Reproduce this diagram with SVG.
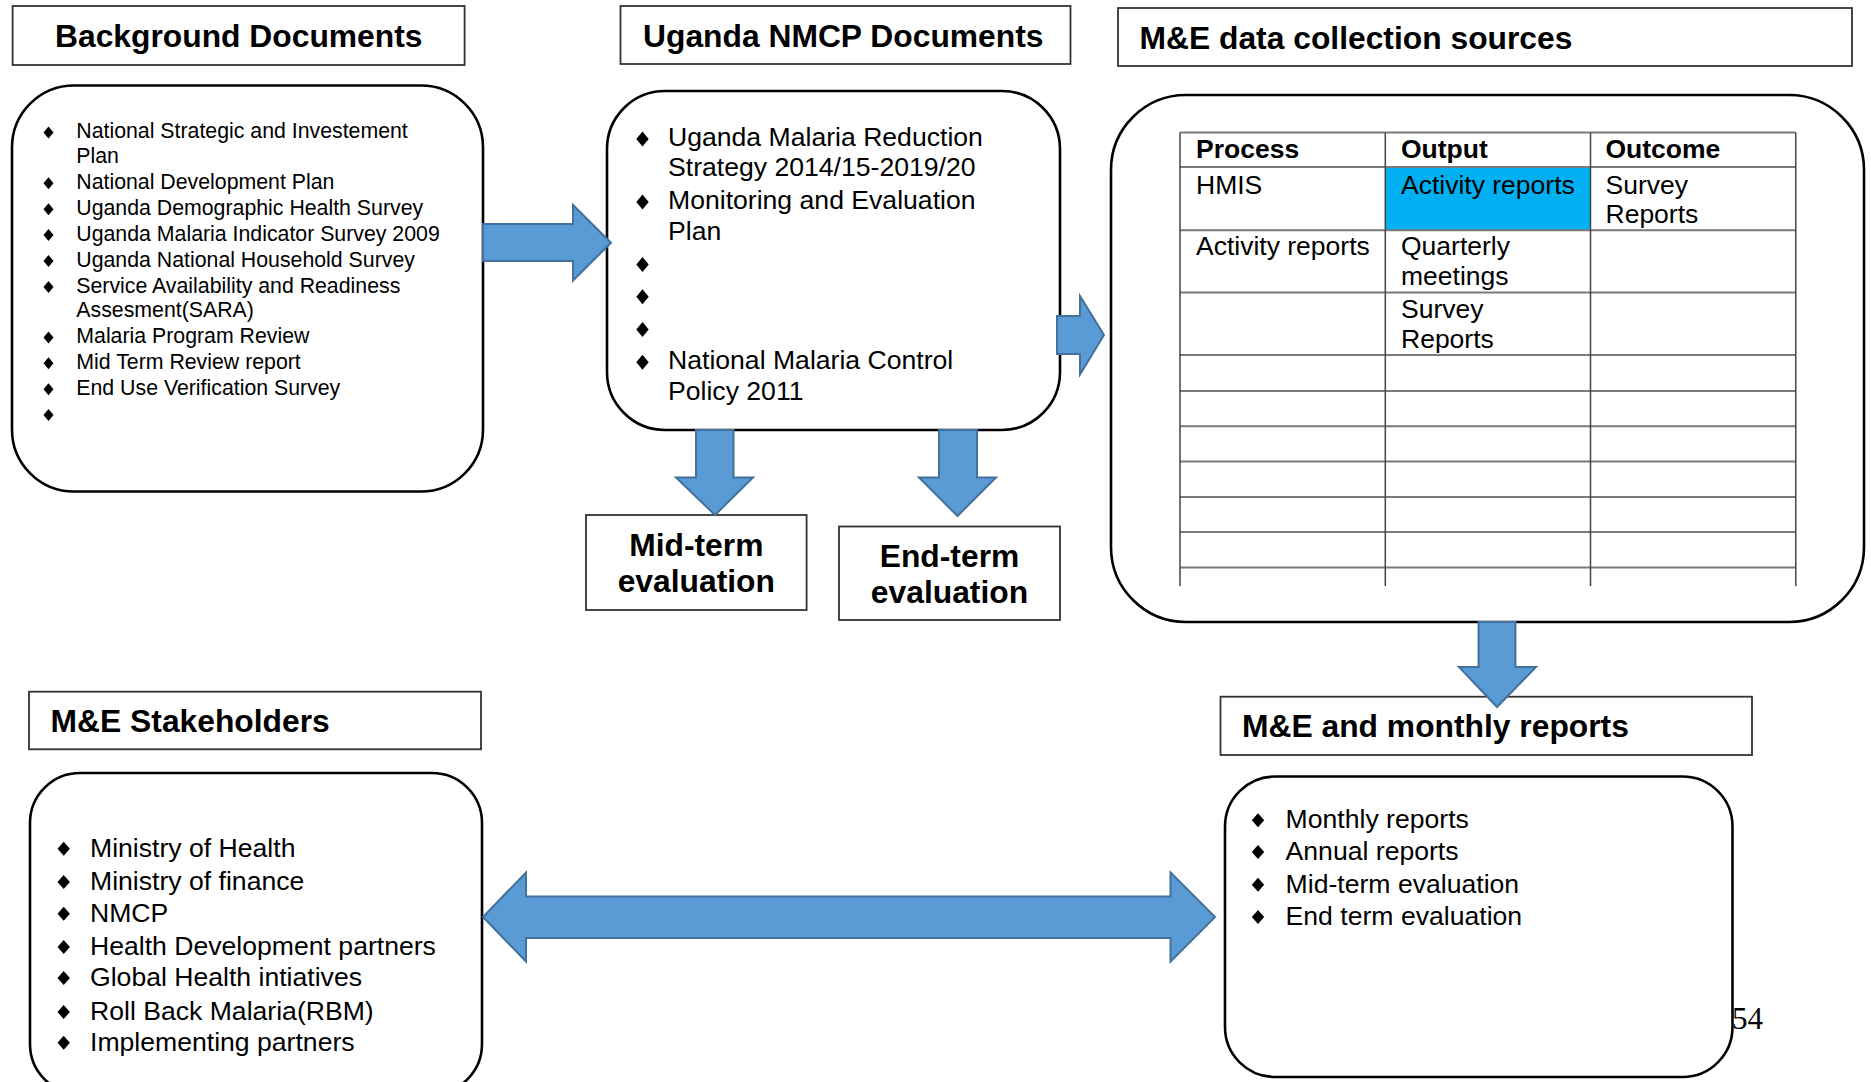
<svg xmlns="http://www.w3.org/2000/svg" width="1871" height="1082" viewBox="0 0 1871 1082">
  <defs>
    <style>
      .title-box { fill: #ffffff; stroke: #333333; stroke-width: 1.8; }
      .title { font-family: "Liberation Sans", Arial, sans-serif; font-weight: bold; font-size: 31.8px; fill: #000000; }
      .panel { fill: #ffffff; stroke: #000000; stroke-width: 2.6; }
      .body { font-family: "Liberation Sans", Arial, sans-serif; fill: #000000; }
      .small { font-size: 21.3px; }
      .med { font-size: 26.6px; }
      .th { font-family: "Liberation Sans", Arial, sans-serif; font-weight: bold; font-size: 26.5px; fill: #000000; }
      .td { font-family: "Liberation Sans", Arial, sans-serif; font-size: 26.5px; fill: #000000; }
      .hline { stroke: #7a7a7a; stroke-width: 2; }
      .vline { stroke: #444444; stroke-width: 1.5; }
      .arrow { fill: #5B9BD5; stroke: #41719C; stroke-width: 2; stroke-linejoin: miter; }
      .page { font-family: "Liberation Serif", "Times New Roman", serif; font-size: 31px; fill: #000000; }
    </style>
    <!-- list bullet diamonds -->
    <path id="dia-s" d="M0,-6 L5,0 L0,6 L-5,0 Z" fill="#000000"/>
    <path id="dia-m" d="M0,-7.5 L6.2,0 L0,7.5 L-6.2,0 Z" fill="#000000"/>
    <path id="dia-l" d="M0,-7 L6.2,0 L0,7 L-6.2,0 Z" fill="#000000"/>
  </defs>

  <rect width="1871" height="1082" fill="#ffffff"/>

  <!-- Background documents -->
  <g id="background-title">
    <rect class="title-box" x="12.6" y="6" width="452" height="59"/>
    <text class="title" x="55" y="47">Background Documents</text>
  </g>
  <g id="background-docs">
    <rect class="panel" x="12" y="85.5" width="471" height="406" rx="62" ry="62"/>
    <use href="#dia-s" x="48.5" y="132.5"/>
    <use href="#dia-s" x="48.5" y="183.2"/>
    <use href="#dia-s" x="48.5" y="209.2"/>
    <use href="#dia-s" x="48.5" y="234.9"/>
    <use href="#dia-s" x="48.5" y="260.9"/>
    <use href="#dia-s" x="48.5" y="286.9"/>
    <use href="#dia-s" x="48.5" y="337.5"/>
    <use href="#dia-s" x="48.5" y="363.2"/>
    <use href="#dia-s" x="48.5" y="389.2"/>
    <use href="#dia-s" x="48.5" y="415"/>
    <g class="body small">
      <text x="76.3" y="138.3">National Strategic and Investement</text>
      <text x="76.3" y="163.3">Plan</text>
      <text x="76.3" y="189">National Development Plan</text>
      <text x="76.3" y="215">Uganda Demographic Health Survey</text>
      <text x="76.3" y="240.7">Uganda Malaria Indicator Survey 2009</text>
      <text x="76.3" y="266.7">Uganda National Household Survey</text>
      <text x="76.3" y="292.7">Service Availability and Readiness</text>
      <text x="76.3" y="316.7">Assesment(SARA)</text>
      <text x="76.3" y="343.3">Malaria Program Review</text>
      <text x="76.3" y="369">Mid Term Review report</text>
      <text x="76.3" y="395">End Use Verification Survey</text>
    </g>
  </g>

  <!-- Uganda NMCP documents -->
  <g id="nmcp-title">
    <rect class="title-box" x="620.5" y="6" width="450" height="58"/>
    <text class="title" x="643" y="47">Uganda NMCP Documents</text>
  </g>
  <g id="nmcp-docs">
    <rect class="panel" x="607" y="91" width="453" height="339" rx="58" ry="58"/>
    <use href="#dia-m" x="642.5" y="139"/>
    <use href="#dia-m" x="642.5" y="202"/>
    <use href="#dia-m" x="642.5" y="264.5"/>
    <use href="#dia-m" x="642.5" y="296.7"/>
    <use href="#dia-m" x="642.5" y="329.4"/>
    <use href="#dia-m" x="642.5" y="362.2"/>
    <g class="body med">
      <text x="668" y="146">Uganda Malaria Reduction</text>
      <text x="668" y="176">Strategy 2014/15-2019/20</text>
      <text x="668" y="209">Monitoring and Evaluation</text>
      <text x="668" y="240">Plan</text>
      <text x="668" y="369.4">National Malaria Control</text>
      <text x="668" y="400">Policy 2011</text>
    </g>
  </g>

  <g id="midterm-eval">
    <rect class="title-box" x="586" y="515" width="220.6" height="95"/>
    <text class="title" x="696.3" y="556" text-anchor="middle">Mid-term</text>
    <text class="title" x="696.3" y="592" text-anchor="middle">evaluation</text>
  </g>
  <g id="endterm-eval">
    <rect class="title-box" x="839" y="526.5" width="221" height="93.5"/>
    <text class="title" x="949.5" y="567" text-anchor="middle">End-term</text>
    <text class="title" x="949.5" y="603" text-anchor="middle">evaluation</text>
  </g>

  <!-- M&E data collection sources -->
  <g id="sources-title">
    <rect class="title-box" x="1118" y="8" width="734" height="58"/>
    <text class="title" x="1139.5" y="49">M&amp;E data collection sources</text>
  </g>
  <g id="sources">
    <rect class="panel" x="1111" y="95" width="753" height="527" rx="75" ry="75"/>
    <rect x="1385.3" y="167" width="205.2" height="63.3" fill="#00B0F0"/>
    <g>
      <line class="hline" x1="1180" y1="132.4" x2="1795.8" y2="132.4"/>
      <line class="hline" x1="1180" y1="167" x2="1795.8" y2="167"/>
      <line class="hline" x1="1180" y1="230.3" x2="1795.8" y2="230.3"/>
      <line class="hline" x1="1180" y1="292.5" x2="1795.8" y2="292.5"/>
      <line class="hline" x1="1180" y1="355" x2="1795.8" y2="355"/>
      <line class="hline" x1="1180" y1="391" x2="1795.8" y2="391"/>
      <line class="hline" x1="1180" y1="426.3" x2="1795.8" y2="426.3"/>
      <line class="hline" x1="1180" y1="461.5" x2="1795.8" y2="461.5"/>
      <line class="hline" x1="1180" y1="497" x2="1795.8" y2="497"/>
      <line class="hline" x1="1180" y1="532" x2="1795.8" y2="532"/>
      <line class="hline" x1="1180" y1="567.5" x2="1795.8" y2="567.5"/>
      <line class="vline" x1="1180" y1="132.4" x2="1180" y2="586"/>
      <line class="vline" x1="1385.3" y1="132.4" x2="1385.3" y2="586"/>
      <line class="vline" x1="1590.5" y1="132.4" x2="1590.5" y2="586"/>
      <line class="vline" x1="1795.8" y1="132.4" x2="1795.8" y2="586"/>
    </g>
    <text class="th" x="1196" y="158">Process</text>
    <text class="th" x="1401" y="158">Output</text>
    <text class="th" x="1605.5" y="158">Outcome</text>
    <text class="td" x="1196" y="193.6">HMIS</text>
    <text class="td" x="1401" y="193.6">Activity reports</text>
    <text class="td" x="1605.5" y="193.6">Survey</text>
    <text class="td" x="1605.5" y="223">Reports</text>
    <text class="td" x="1196" y="255">Activity reports</text>
    <text class="td" x="1401" y="255">Quarterly</text>
    <text class="td" x="1401" y="285.4">meetings</text>
    <text class="td" x="1401" y="317.5">Survey</text>
    <text class="td" x="1401" y="348">Reports</text>
  </g>

  <!-- M&E stakeholders -->
  <g id="stakeholders-title">
    <rect class="title-box" x="29" y="691.7" width="452" height="57.6"/>
    <text class="title" x="50.6" y="732">M&amp;E Stakeholders</text>
  </g>
  <g id="stakeholders">
    <rect class="panel" x="30" y="773" width="452" height="321" rx="50" ry="50"/>
    <use href="#dia-l" x="63.7" y="848.7"/>
    <use href="#dia-l" x="63.7" y="882"/>
    <use href="#dia-l" x="63.7" y="913.7"/>
    <use href="#dia-l" x="63.7" y="947"/>
    <use href="#dia-l" x="63.7" y="978"/>
    <use href="#dia-l" x="63.7" y="1012"/>
    <use href="#dia-l" x="63.7" y="1042.7"/>
    <g class="body med">
      <text x="90" y="856.7">Ministry of Health</text>
      <text x="90" y="890">Ministry of finance</text>
      <text x="90" y="921.7">NMCP</text>
      <text x="90" y="955">Health Development partners</text>
      <text x="90" y="986">Global Health intiatives</text>
      <text x="90" y="1020">Roll Back Malaria(RBM)</text>
      <text x="90" y="1050.7">Implementing partners</text>
    </g>
  </g>

  <!-- M&E and monthly reports -->
  <g id="reports-title">
    <rect class="title-box" x="1220.5" y="696.7" width="531.5" height="58.3"/>
    <text class="title" x="1242" y="737">M&amp;E and monthly reports</text>
  </g>
  <g id="reports">
    <rect class="panel" x="1225" y="776.5" width="507.5" height="300.5" rx="50" ry="50"/>
    <use href="#dia-l" x="1258" y="820.3"/>
    <use href="#dia-l" x="1258" y="852"/>
    <use href="#dia-l" x="1258" y="884.7"/>
    <use href="#dia-l" x="1258" y="917"/>
    <g class="body med">
      <text x="1285.6" y="828.3">Monthly reports</text>
      <text x="1285.6" y="860">Annual reports</text>
      <text x="1285.6" y="892.7">Mid-term evaluation</text>
      <text x="1285.6" y="925">End term evaluation</text>
    </g>
  </g>
  <text class="page" x="1732" y="1028.5">54</text>

  <!-- Connectors: block arrows -->
  <g id="connectors">
    <polygon class="arrow" points="483,224 573,224 573,205 611,242.7 573,280.5 573,261 483,261"/>
    <polygon class="arrow" points="1057,316 1080,316 1080,296 1104,335 1080,374.5 1080,354 1057,354"/>
    <polygon class="arrow" points="696,430 733.5,430 733.5,477.5 753,477.5 715,515 676,477.5 696,477.5"/>
    <polygon class="arrow" points="939,430 977,430 977,477.5 996,477.5 957.5,516 919,477.5 939,477.5"/>
    <polygon class="arrow" points="1478.6,622 1515.4,622 1515.4,667 1536,667 1497,707 1459,667 1478.6,667"/>
    <polygon class="arrow" points="483,917 526,872.5 526,896.5 1170.5,896.5 1170.5,872.5 1215,917 1170.5,961.5 1170.5,938 526,938 526,961.5"/>
  </g>
</svg>
